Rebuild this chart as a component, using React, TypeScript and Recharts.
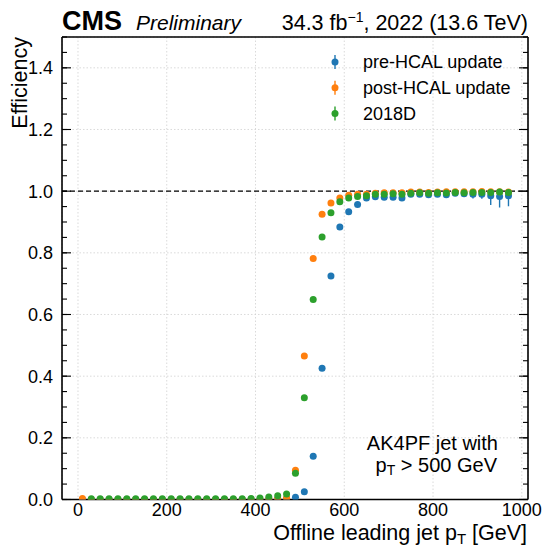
import React from "react";
import {
  ScatterChart,
  Scatter,
  XAxis,
  YAxis,
  CartesianGrid,
  ReferenceLine,
  ErrorBar,
} from "recharts";

// offline leading jet pT bin centres [GeV]
const PT = [
  10, 30, 50, 70, 90, 110, 130, 150, 170, 190, 210, 230, 250, 270, 290, 310, 330,
  350, 370, 390, 410, 430, 450, 470, 490, 510, 530, 550, 570, 590, 610, 630, 650,
  670, 690, 710, 730, 750, 770, 790, 810, 830, 850, 870, 890, 910, 930, 950, 970,
];

const PRE_HCAL = [
  0, 0, 0, 0, 0, 0, 0, 0, 0, 0, 0, 0, 0, 0, 0, 0, 0,
  0, 0, 0, 0, 0.001, 0.002, 0.003, 0.007, 0.025, 0.14, 0.426, 0.725, 0.884, 0.933, 0.957, 0.978,
  0.982, 0.98, 0.98, 0.978, 0.99, 0.99, 0.988, 0.99, 0.988, 0.993, 0.992, 0.99, 0.99, 0.985, 0.983, 0.985,
];
const PRE_HCAL_ERR_LO = [
  0, 0, 0, 0, 0, 0, 0, 0, 0, 0, 0, 0, 0, 0, 0, 0, 0,
  0, 0, 0, 0, 0, 0, 0, 0, 0, 0, 0, 0, 0, 0, 0, 0,
  0, 0, 0, 0.008, 0.006, 0.006, 0.008, 0.007, 0.008, 0.008, 0.01, 0.014, 0.015, 0.03, 0.036, 0.034,
];
const PRE_HCAL_ERR_HI = [
  0, 0, 0, 0, 0, 0, 0, 0, 0, 0, 0, 0, 0, 0, 0, 0, 0,
  0, 0, 0, 0, 0, 0, 0, 0, 0, 0, 0, 0, 0, 0, 0, 0,
  0, 0, 0, 0.006, 0.005, 0.005, 0.006, 0.005, 0.006, 0.005, 0.006, 0.008, 0.008, 0.012, 0.014, 0.013,
];

const POST_HCAL = [
  0.003, 0, 0, 0, 0, 0, 0, 0, 0, 0, 0, 0, 0, 0, 0, 0, 0,
  0, 0, 0, 0, 0.002, 0.003, 0.005, 0.095, 0.465, 0.782, 0.925, 0.962, 0.978, 0.987, 0.99, 0.99,
  0.993, 0.995, 0.995, 0.995, 0.997, 0.997, 0.996, 0.997, 0.998, 0.998, 0.998, 0.998, 0.999, 0.998, 0.998, 0.997,
];

const RUN_2018D = [
  null, 0.002, 0.002, 0.002, 0.002, 0.002, 0.002, 0.002, 0.002, 0.002, 0.002, 0.002, 0.002, 0.002, 0.002, 0.002, 0.002,
  0.002, 0.002, 0.003, 0.005, 0.008, 0.012, 0.018, 0.085, 0.33, 0.649, 0.851, 0.93, 0.966, 0.978, 0.983, 0.985,
  0.99, 0.99, 0.992, 0.99, 0.993, 0.995, 0.993, 0.995, 0.994, 0.996, 0.995, 0.996, 0.996, 0.996, 0.997, 0.996,
];

const X_MAJOR = [0, 200, 400, 600, 800, 1000];
const X_MINOR = Array.from({ length: 21 }, (_, i) => i * 50);
const Y_MAJOR = [0, 0.2, 0.4, 0.6, 0.8, 1.0, 1.2, 1.4];
const Y_MINOR = Array.from({ length: 31 }, (_, i) => i * 0.05);

const BLUE = "#1f77b4";
const ORANGE = "#ff7f0e";
const GREEN = "#2ca02c";
const FONT = "'Liberation Sans', Arial, Helvetica, sans-serif";

const toPoints = (vals: (number | null)[], lo?: number[], hi?: number[]) =>
  PT.map((x, i) => ({ x, y: vals[i], err: [lo ? lo[i] : 0, hi ? hi[i] : 0] })).filter(
    (p) => p.y !== null
  );

const preData = toPoints(PRE_HCAL, PRE_HCAL_ERR_LO, PRE_HCAL_ERR_HI);
const postData = toPoints(POST_HCAL);
const d2018Data = toPoints(RUN_2018D);

const dot = (color: string) => (p: any) => <circle cx={p.cx} cy={p.cy} r={3.5} fill={color} />;
const noLabel = () => <g />;

const LEGEND = [
  { label: "pre-HCAL update", color: BLUE },
  { label: "post-HCAL update", color: ORANGE },
  { label: "2018D", color: GREEN },
];

// axes must have a non-zero size to be drawn; keep it tiny so the plot area is set by the margin
const T = 0.01;

export default function App() {
  const W = 544;
  const H = 546;
  const frame = { stroke: "#000", strokeWidth: 1.6 };
  const major = { stroke: "#000", strokeWidth: 1.1 };
  const common = { type: "number" as const, allowDataOverflow: true, interval: 0 as const };
  const xDom: [number, number] = [-36, 1014];
  const yDom: [number, number] = [0, 1.5];

  return (
    <div style={{ position: "absolute", left: 0, top: 0, width: W, height: H, background: "#fff" }}>
      <ScatterChart width={W} height={H} margin={{ top: 37, right: 16, bottom: 46.5, left: 62 }}>
        <CartesianGrid
          xAxisId="xl"
          yAxisId="yl"
          stroke="#d0d0d0"
          strokeDasharray="1.5 2"
          strokeWidth={0.8}
        />
        {/* labels */}
        <XAxis
          {...common}
          xAxisId="xl"
          dataKey="x"
          domain={xDom}
          ticks={X_MAJOR}
          height={T}
          tickSize={0}
          tickMargin={4}
          tickLine={false}
          axisLine={false}
          tick={{ fontSize: 18, fill: "#000", fontFamily: FONT }}
        />
        {/* inward ticks on all four sides */}
        <XAxis {...common} xAxisId="xM" domain={xDom} ticks={X_MAJOR} height={T} mirror tick={noLabel} tickSize={9} tickLine={major} axisLine={frame} />
        <XAxis {...common} xAxisId="xm" domain={xDom} ticks={X_MINOR} height={T} mirror tick={noLabel} tickSize={5} tickLine={major} axisLine={false} />
        <XAxis {...common} xAxisId="tM" orientation="top" domain={xDom} ticks={X_MAJOR} height={T} mirror tick={noLabel} tickSize={9} tickLine={major} axisLine={frame} />
        <XAxis {...common} xAxisId="tm" orientation="top" domain={xDom} ticks={X_MINOR} height={T} mirror tick={noLabel} tickSize={5} tickLine={major} axisLine={false} />
        <YAxis
          {...common}
          yAxisId="yl"
          dataKey="y"
          domain={yDom}
          ticks={Y_MAJOR}
          width={T}
          tickSize={0}
          tickMargin={9}
          tickLine={false}
          axisLine={false}
          tickFormatter={(v: number) => v.toFixed(1)}
          tick={{ fontSize: 18, fill: "#000", fontFamily: FONT }}
        />
        <YAxis {...common} yAxisId="yM" domain={yDom} ticks={Y_MAJOR} width={T} mirror tick={noLabel} tickSize={9} tickLine={major} axisLine={frame} />
        <YAxis {...common} yAxisId="ym" domain={yDom} ticks={Y_MINOR} width={T} mirror tick={noLabel} tickSize={5} tickLine={major} axisLine={false} />
        <YAxis {...common} yAxisId="rM" orientation="right" domain={yDom} ticks={Y_MAJOR} width={T} mirror tick={noLabel} tickSize={9} tickLine={major} axisLine={frame} />
        <YAxis {...common} yAxisId="rm" orientation="right" domain={yDom} ticks={Y_MINOR} width={T} mirror tick={noLabel} tickSize={5} tickLine={major} axisLine={false} />

        <ReferenceLine xAxisId="xl" yAxisId="yl" y={1} stroke="#000" strokeDasharray="5 3" strokeWidth={1.1} />

        <Scatter xAxisId="xl" yAxisId="yl" data={preData} shape={dot(BLUE)} isAnimationActive={false}>
          <ErrorBar dataKey="err" direction="y" width={0} stroke={BLUE} strokeWidth={1.4} />
        </Scatter>
        <Scatter xAxisId="xl" yAxisId="yl" data={postData} shape={dot(ORANGE)} isAnimationActive={false} />
        <Scatter xAxisId="xl" yAxisId="yl" data={d2018Data} shape={dot(GREEN)} isAnimationActive={false} />
      </ScatterChart>

      <svg
        width={W}
        height={H}
        style={{ position: "absolute", left: 0, top: 0, pointerEvents: "none" }}
        fontFamily={FONT}
      >
        <text x={62} y={30} fontSize={27} fontWeight="bold">CMS</text>
        <text x={136} y={30} fontSize={21} fontStyle="italic">Preliminary</text>
        <text x={528} y={30} fontSize={21.5} textAnchor="end">
          34.3 fb<tspan fontSize={14} dy={-8}>−1</tspan>
          <tspan dy={8}>, 2022 (13.6 TeV)</tspan>
        </text>

        <text transform="translate(27,37) rotate(-90)" fontSize={21.5} textAnchor="end">Efficiency</text>
        <text x={527} y={540} fontSize={21.5} textAnchor="end">
          Offline leading jet p<tspan fontSize={15} dy={4}>T</tspan>
          <tspan dy={-4}> [GeV]</tspan>
        </text>

        {LEGEND.map((l, i) => {
          const cy = 62 + i * 25.8;
          return (
            <g key={l.label}>
              <line x1={335} x2={335} y1={cy - 7} y2={cy + 7} stroke={l.color} strokeWidth={1.4} />
              <circle cx={335} cy={cy} r={3.5} fill={l.color} />
              <text x={363} y={cy + 6} fontSize={18}>{l.label}</text>
            </g>
          );
        })}

        <text x={498} y={450} fontSize={20} textAnchor="end">AK4PF jet with</text>
        <text x={497} y={472} fontSize={20} textAnchor="end">
          p<tspan fontSize={14} dy={3}>T</tspan>
          <tspan dy={-3}> &gt; 500 GeV</tspan>
        </text>
      </svg>
    </div>
  );
}
